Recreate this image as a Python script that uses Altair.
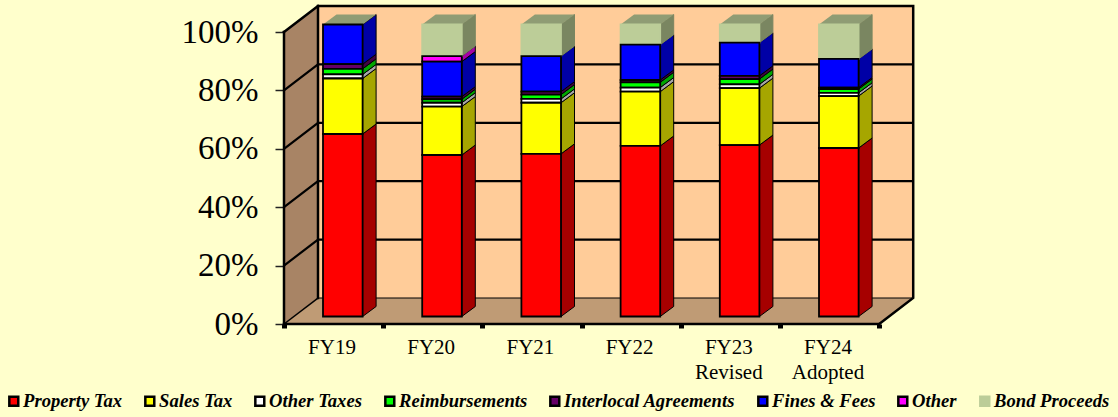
import json
import altair as alt
import pandas as pd

# Share of revenue by source, percent of each fiscal year's total
years = ["FY19", "FY20", "FY21", "FY22", "FY23", "FY24"]
year_labels = [["FY19"], ["FY20"], ["FY21"], ["FY22"], ["FY23", "Revised"], ["FY24", "Adopted"]]
series = ["Property Tax", "Sales Tax", "Other Taxes", "Reimbursements",
          "Interlocal Agreements", "Fines & Fees", "Other", "Bond Proceeds"]
property_tax = [62.5, 55.3, 55.7, 58.4, 58.7, 57.7]
sales_tax = [19.0, 16.6, 17.5, 18.6, 19.5, 17.8]
other_taxes = [1.4, 1.3, 1.3, 1.4, 1.3, 1.1]
reimbursements = [1.9, 1.2, 1.5, 1.8, 1.8, 1.3]
interlocal = [1.6, 0.9, 1.0, 0.8, 1.1, 0.5]
fines_fees = [13.6, 12.0, 12.2, 12.1, 11.4, 9.8]
other = [0.0, 1.9, 0.0, 0.0, 0.0, 0.0]
bond_proceeds = [0.0, 10.8, 10.8, 6.9, 6.2, 11.8]
columns = [property_tax, sales_tax, other_taxes, reimbursements,
           interlocal, fines_fees, other, bond_proceeds]

front_colors = ["#FF0000", "#FFFF00", "#FFFFFF", "#00FF00", "#660066", "#0000FF", "#FF00FF", "#BCCD98"]
side_colors = ["#A60000", "#A6A600", "#A6A6A6", "#00A600", "#420042", "#0000A6", "#A600A6", "#7A8661"]
front_strokes = ["#000000"] * 7 + ["#BCCD98"]
side_strokes = ["#000000"] * 7 + ["#7A8661"]
top_color = "#8F9C74"

ticks_y = [0, 20, 40, 60, 80, 100]
font = "Liberation Serif"

# Projection of the box, in axis units
PX_PER_YEAR, PX_PER_PCT = 99.2, 2.92
PLOT_W, PLOT_H = 634, 324
wall_dx, wall_dy = 34 / PX_PER_YEAR, 26 / PX_PER_PCT
bar_dx, bar_dy = 13.5 / PX_PER_YEAR, 10 / PX_PER_PCT
bar_left, bar_width = 39 / PX_PER_YEAR, 39.6 / PX_PER_YEAR
bar_lift = 7.5 / PX_PER_PCT
n = len(years)

x_scale = alt.Scale(domain=[0, PLOT_W / PX_PER_YEAR], nice=False, zero=False)
y_scale = alt.Scale(domain=[0, PLOT_H / PX_PER_PCT], nice=False, zero=False)
X = alt.X("x:Q", scale=x_scale, title=None)
Y = alt.Y("y:Q", scale=y_scale, title=None)

# Stacked segments and their projected faces
fronts, sides, tops = [], [], []
for i in range(n):
    base = 0.0
    left = i + bar_left
    right = left + bar_width
    for s, name in enumerate(series):
        value = columns[s][i]
        if value > 0:
            y0, y1 = base + bar_lift, base + value + bar_lift
            fronts.append(dict(x=left, x2=right, y=y0, y2=y1, series=name, rank=-s))
            key = f"{i}-{s}"
            sides.append(dict(x=right, y=y0, y2=y1, face=key, fill=side_colors[s], line=side_strokes[s]))
            sides.append(dict(x=right + bar_dx, y=y0 + bar_dy, y2=y1 + bar_dy,
                              face=key, fill=side_colors[s], line=side_strokes[s]))
        base += value
    top = base + bar_lift
    tops.append(dict(y=top, x=left, x2=right, face=i))
    tops.append(dict(y=top + bar_dy, x=left + bar_dx, x2=right + bar_dx, face=i))

fronts = pd.DataFrame(fronts).sort_values("rank")
sides = pd.DataFrame(sides)
tops = pd.DataFrame(tops)

# Walls and floor of the box
left_wall = pd.DataFrame([dict(x=0, y=0, y2=100), dict(x=wall_dx, y=wall_dy, y2=100 + wall_dy)])
floor = pd.DataFrame([dict(y=0, x=0, x2=n), dict(y=wall_dy, x=wall_dx, x2=n + wall_dx)])
back_wall = pd.DataFrame([dict(x=wall_dx, x2=n + wall_dx, y=wall_dy, y2=100 + wall_dy)])

grid = []
for v in ticks_y[1:-1]:
    for order, (px, py) in enumerate([(0, v), (wall_dx, v + wall_dy), (n + wall_dx, v + wall_dy)]):
        grid.append(dict(x=px, y=py, path=v, order=order))
grid = pd.DataFrame(grid)


def polyline(points, width, color="#000000"):
    frame = pd.DataFrame([dict(x=a, y=b, order=k) for k, (a, b) in enumerate(points)])
    return alt.Chart(frame).mark_line(color=color, strokeWidth=width, strokeCap="square").encode(
        x=X, y=Y, order="order:Q")


label_expr = f"({json.dumps(year_labels + [''])})[datum.value]"

walls = [
    alt.Chart(back_wall).mark_rect(fill="#FFCC99").encode(x=X, x2="x2:Q", y=Y, y2="y2:Q"),
    alt.Chart(left_wall).mark_area(fill="#A88465", interpolate="linear").encode(x=X, y=Y, y2="y2:Q"),
    alt.Chart(floor).mark_area(fill="#BF9B75", orient="horizontal", interpolate="linear").encode(
        y=Y, x=X, x2="x2:Q"),
    alt.Chart(grid).mark_line(color="#000000", strokeWidth=2.2).encode(
        x=X, y=Y, detail="path:N", order="order:Q"),
    polyline([(wall_dx, wall_dy), (n + wall_dx, wall_dy)], 1),
    polyline([(0, 0), (wall_dx, wall_dy)], 1.5),
    polyline([(wall_dx, wall_dy), (wall_dx, 100 + wall_dy), (n + wall_dx, 100 + wall_dy),
              (n + wall_dx, wall_dy), (n, 0)], 2.5),
    polyline([(0, 100), (wall_dx, 100 + wall_dy)], 2.5),
    polyline([(0, 0), (0, 100)], 2.5),
    polyline([(0, 0), (n, 0)], 2.5),
]

# Invisible layer that carries both axes
axes = alt.Chart(pd.DataFrame(dict(x=[0.0], y=[0.0]))).mark_point(opacity=0).encode(
    x=alt.X("x:Q", scale=x_scale, title=None, axis=alt.Axis(
        values=list(range(n + 1)), grid=False, domain=False,
        tickColor="#000000", tickWidth=5, tickSize=4, labelOffset=47.5,
        labelExpr=label_expr, labelFont=font, labelFontSize=21, labelColor="#000000",
        labelPadding=8, labelLineHeight=25, labelOverlap=False, labelFlush=False)),
    y=alt.Y("y:Q", scale=y_scale, title=None, axis=alt.Axis(
        values=ticks_y, grid=False, domain=False,
        tickColor="#222222", tickWidth=1.5, tickSize=9,
        labelExpr="datum.value + '%'", labelFont=font, labelFontSize=33, labelColor="#000000",
        labelPadding=17)),
)

side_faces = alt.Chart(sides).mark_area(interpolate="linear", strokeWidth=1).encode(
    x=X, y=Y, y2="y2:Q", detail="face:N",
    fill=alt.Fill("fill:N", scale=None),
    stroke=alt.Stroke("line:N", scale=None),
)
top_faces = alt.Chart(tops).mark_area(
    orient="horizontal", interpolate="linear", fill=top_color, opacity=1
).encode(y=Y, x=X, x2="x2:Q", detail="face:N")

legend = alt.Legend(
    title=None, orient="none", legendX=-279.5, legendY=392, direction="horizontal",
    columns=8, gridAlign="none", symbolType="square", symbolSize=80,
    symbolStrokeWidth=2.5, symbolOpacity=1, columnPadding=17, labelOffset=0,
    labelFont=font, labelFontSize=18.6, labelFontStyle="italic", labelFontWeight="bold",
    labelColor="#000000", labelLimit=300,
)
front_faces = alt.Chart(fronts).mark_rect(strokeWidth=1.8).encode(
    x=X, x2="x2:Q", y=Y, y2="y2:Q",
    fill=alt.Fill("series:N", scale=alt.Scale(domain=series, range=front_colors), legend=legend),
    stroke=alt.Stroke("series:N", scale=alt.Scale(domain=series, range=front_strokes), legend=legend),
    order=alt.Order("rank:Q"),
)

chart = alt.layer(
    *walls, axes, side_faces, top_faces, front_faces
).properties(
    width=PLOT_W, height=PLOT_H, background="#FFFFCC",
    autosize=alt.AutoSizeParams(type="none"),
    padding={"left": 284, "top": 0, "right": 1118 - 284 - PLOT_W, "bottom": 417 - PLOT_H},
).configure_view(stroke=None)

chart.save("out.html", embed_options={"renderer": "svg", "actions": False})
